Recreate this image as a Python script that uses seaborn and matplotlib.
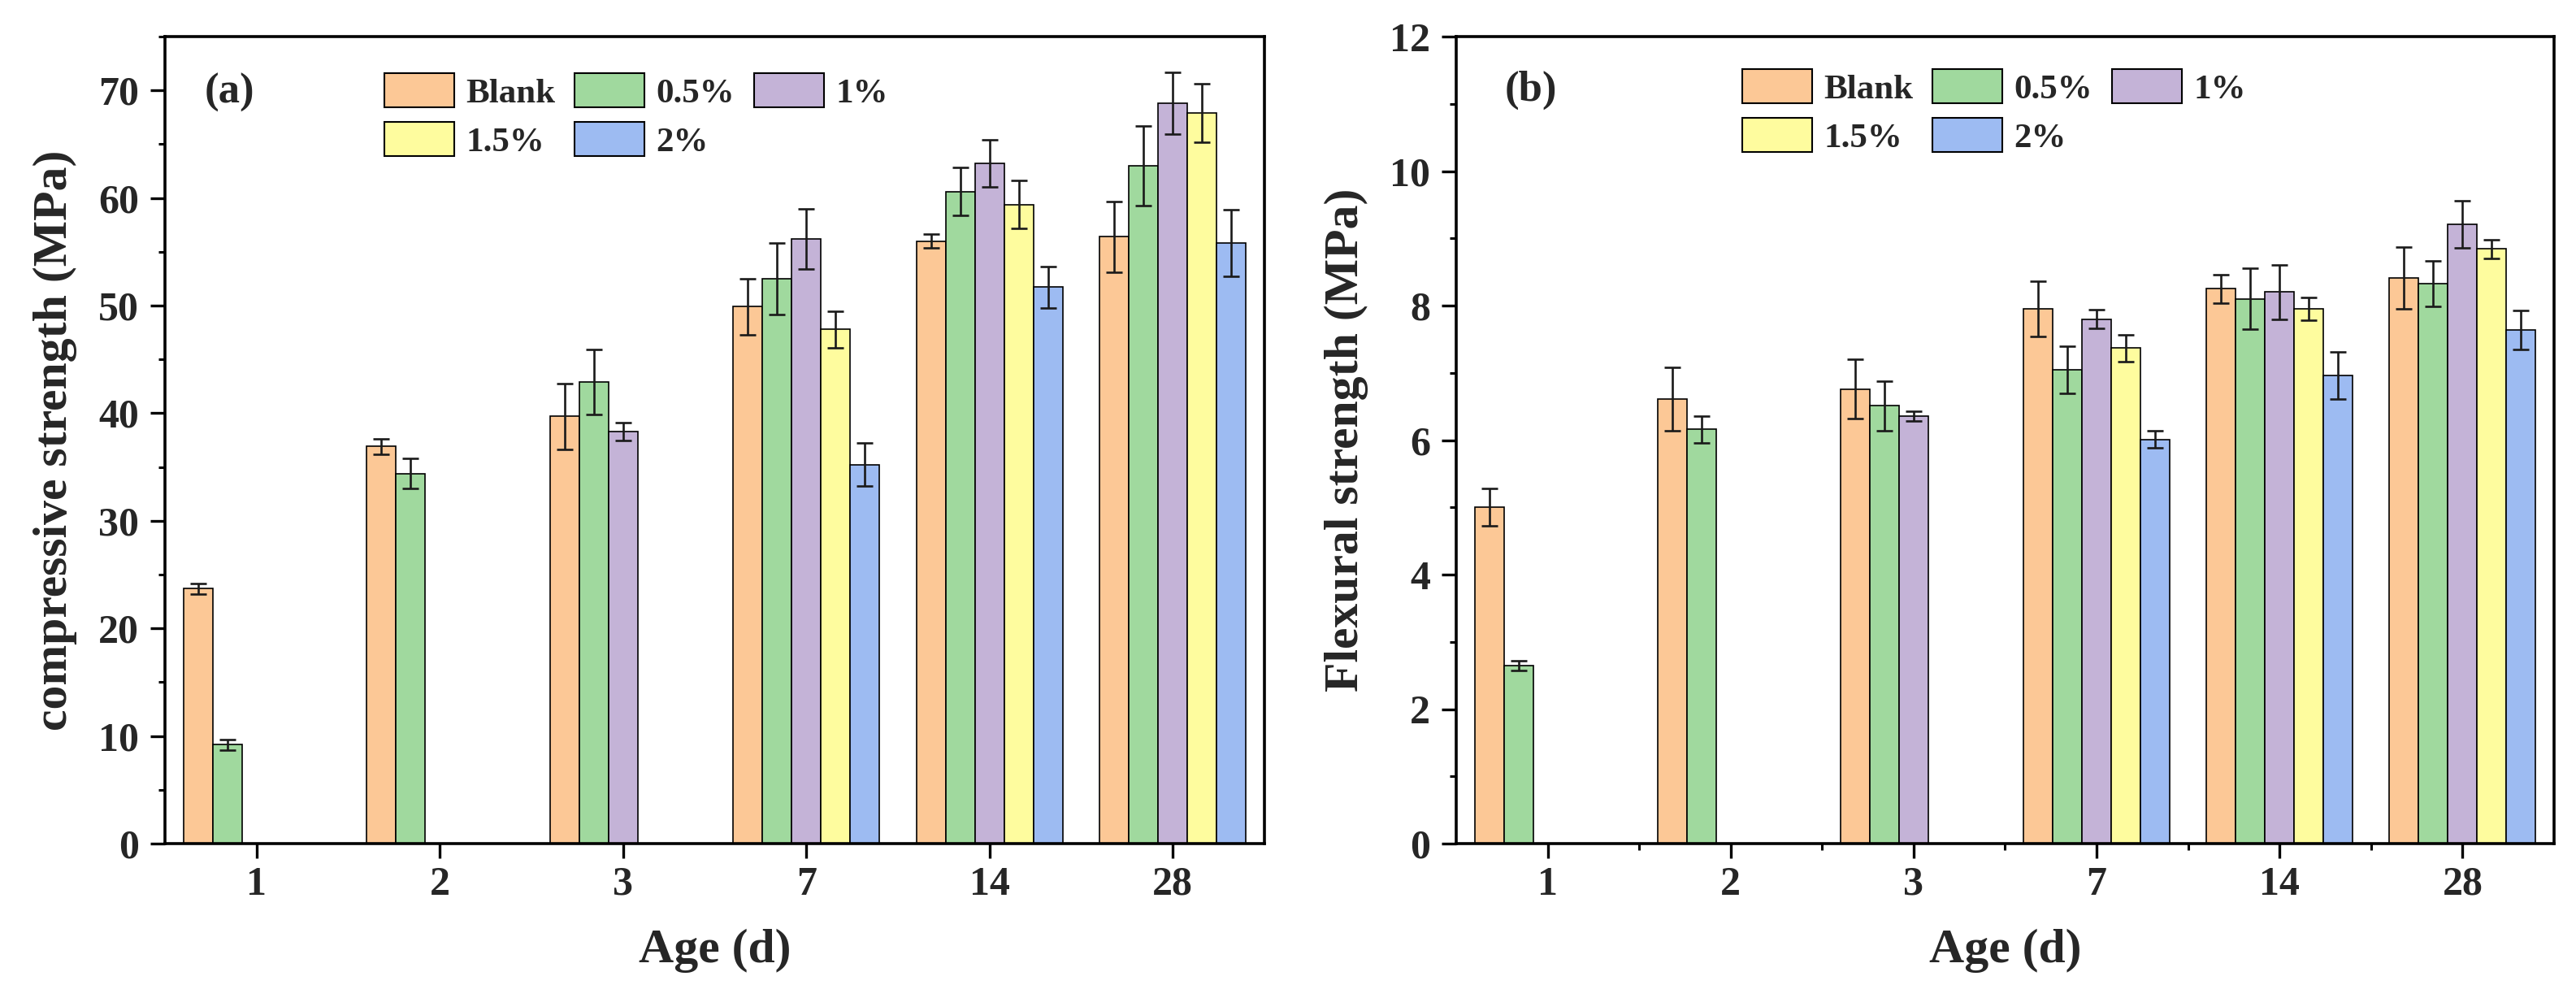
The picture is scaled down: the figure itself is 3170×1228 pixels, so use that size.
import numpy as np
import pandas as pd
import matplotlib
matplotlib.use("Agg")
import matplotlib.pyplot as plt
import matplotlib.patches as mpatches
import matplotlib.colors as mcolors
from matplotlib.ticker import MultipleLocator, FixedLocator
import seaborn as sns

# ---------------- data ----------------
ages = ['1', '2', '3', '7', '14', '28']
groups = ['Blank', '0.5%', '1%', '1.5%', '2%']
nan = np.nan

comp_blank = [23.7, 36.9, 39.7, 49.9, 56.0, 56.4]
comp_05 = [9.2, 34.4, 42.9, 52.5, 60.6, 63.0]
comp_1 = [nan, nan, 38.3, 56.2, 63.2, 68.8]
comp_15 = [nan, nan, nan, 47.8, 59.4, 67.9]
comp_2 = [nan, nan, nan, 35.2, 51.7, 55.8]

comp_blank_err = [0.5, 0.75, 3.05, 2.6, 0.65, 3.3]
comp_05_err = [0.5, 1.4, 3.0, 3.3, 2.25, 3.7]
comp_1_err = [nan, nan, 0.8, 2.8, 2.2, 2.9]
comp_15_err = [nan, nan, nan, 1.7, 2.2, 2.7]
comp_2_err = [nan, nan, nan, 2.0, 1.95, 3.1]

flex_blank = [5.00, 6.61, 6.76, 7.95, 8.25, 8.41]
flex_05 = [2.65, 6.16, 6.51, 7.05, 8.10, 8.33]
flex_1 = [nan, nan, 6.36, 7.80, 8.20, 9.21]
flex_15 = [nan, nan, nan, 7.37, 7.95, 8.84]
flex_2 = [nan, nan, nan, 6.01, 6.96, 7.64]

flex_blank_err = [0.28, 0.47, 0.44, 0.41, 0.21, 0.46]
flex_05_err = [0.07, 0.20, 0.37, 0.35, 0.45, 0.34]
flex_1_err = [nan, nan, 0.07, 0.14, 0.41, 0.35]
flex_15_err = [nan, nan, nan, 0.20, 0.17, 0.14]
flex_2_err = [nan, nan, nan, 0.13, 0.35, 0.29]

colors = ['#FCC896', '#A0D99E', '#C4B3D7', '#FEFC9E', '#9DBBF2']

# ---------------- style ----------------
sns.set_style("ticks")
plt.rcParams['font.family'] = ['Liberation Serif', 'DejaVu Serif']
plt.rcParams['font.weight'] = 'bold'
plt.rcParams['axes.labelweight'] = 'bold'
plt.rcParams['axes.linewidth'] = 2.6
plt.rcParams['axes.edgecolor'] = 'black'

palette = dict(zip(groups, colors))


def build_df(vals, errs):
    rows = []
    for g, v, e in zip(groups, vals, errs):
        for a, vv, ee in zip(ages, v, e):
            if not np.isnan(vv):
                rows.append({'Age': a, 'Group': g, 'value': vv, 'err': ee})
    return pd.DataFrame(rows)


df_comp = build_df([comp_blank, comp_05, comp_1, comp_15, comp_2],
                   [comp_blank_err, comp_05_err, comp_1_err, comp_15_err, comp_2_err])
df_flex = build_df([flex_blank, flex_05, flex_1, flex_15, flex_2],
                   [flex_blank_err, flex_05_err, flex_1_err, flex_15_err, flex_2_err])

fig = plt.figure(figsize=(31.70, 12.28), dpi=100)
ax1 = fig.add_axes([0.06404, 0.15472, 0.42681, 0.80863])
ax2 = fig.add_axes([0.56530, 0.15472, 0.42618, 0.80863])


def draw(ax, df, ylim, major, minor, ylabel, panel, leg_xy, panel_xy, xminor):
    sns.barplot(data=df, x='Age', y='value', hue='Group', order=ages,
                hue_order=groups, palette=palette, width=0.8, saturation=1,
                edgecolor='black', linewidth=1.2, errorbar=None, legend=False,
                ax=ax, zorder=2)
    # error bars at the centres of the drawn bars
    rgba = {g: mcolors.to_rgba(c) for g, c in palette.items()}
    lookup = {(r.Group, r.Age): r.err for r in df.itertuples()}
    for p in ax.patches:
        fc = p.get_facecolor()
        g = min(rgba, key=lambda k: sum((a - b) ** 2 for a, b in zip(rgba[k][:3], fc[:3])))
        cx = p.get_x() + p.get_width() / 2
        cat = ages[int(round(cx))]
        e = lookup.get((g, cat), nan)
        if np.isnan(e):
            continue
        ax.errorbar(cx, p.get_height(), yerr=e, fmt='none', ecolor='#1a1a1a',
                    elinewidth=1.9, capsize=7.5, capthick=1.9, zorder=3)

    ax.set_xlim(-0.5, len(ages) - 0.5)
    ax.set_ylim(*ylim)
    ax.yaxis.set_major_locator(MultipleLocator(major))
    ax.yaxis.set_minor_locator(MultipleLocator(minor))
    if xminor:
        ax.xaxis.set_minor_locator(FixedLocator(np.arange(0.5, len(ages) - 0.5, 1.0)))
    ax.tick_params(axis='both', which='major', direction='out', length=13,
                   width=2.4, labelsize=36, color='black')
    ax.tick_params(axis='y', which='major', pad=10)
    ax.tick_params(axis='x', which='major', pad=7)
    ax.tick_params(axis='both', which='minor', direction='out', length=6,
                   width=2.2, color='black')
    for lab in ax.get_xticklabels() + ax.get_yticklabels():
        lab.set_fontweight('bold')
    for s in ax.spines.values():
        s.set_visible(True)
        s.set_linewidth(2.6)
        s.set_color('black')

    ax.set_xlabel('Age (d)', fontsize=43, fontweight='bold')
    ax.set_ylabel(ylabel, fontsize=43, fontweight='bold')
    ax.xaxis.set_label_coords(0.5, -0.105)
    ax.yaxis.set_label_coords(-0.080, 0.5)

    ax.text(panel_xy[0], panel_xy[1], panel, transform=ax.transAxes,
            fontsize=38, fontweight='bold', ha='left', va='center')

    handles = {g: mpatches.Patch(facecolor=palette[g], edgecolor='black',
                                 linewidth=1.5, label=g) for g in groups}
    order = ['Blank', '1.5%', '0.5%', '2%', '1%']
    ax.legend([handles[g] for g in order], order, ncol=3, frameon=False,
              loc='upper left', bbox_to_anchor=leg_xy, borderpad=0,
              borderaxespad=0, handlelength=2.0, handleheight=1.13,
              handletextpad=0.33, columnspacing=0.55, labelspacing=0.36,
              prop={'size': 31, 'weight': 'bold'})


draw(ax1, df_comp, (0, 75), 10, 5, 'compressive strength (MPa)', '(a)',
     (0.1996, 0.9547), (0.0362, 0.9305), False)
draw(ax2, df_flex, (0, 12), 2, 1, 'Flexural strength (MPa)', '(b)',
     (0.2605, 0.9597), (0.0444, 0.9335), True)

fig.savefig('out.png', dpi=100, facecolor='white')
